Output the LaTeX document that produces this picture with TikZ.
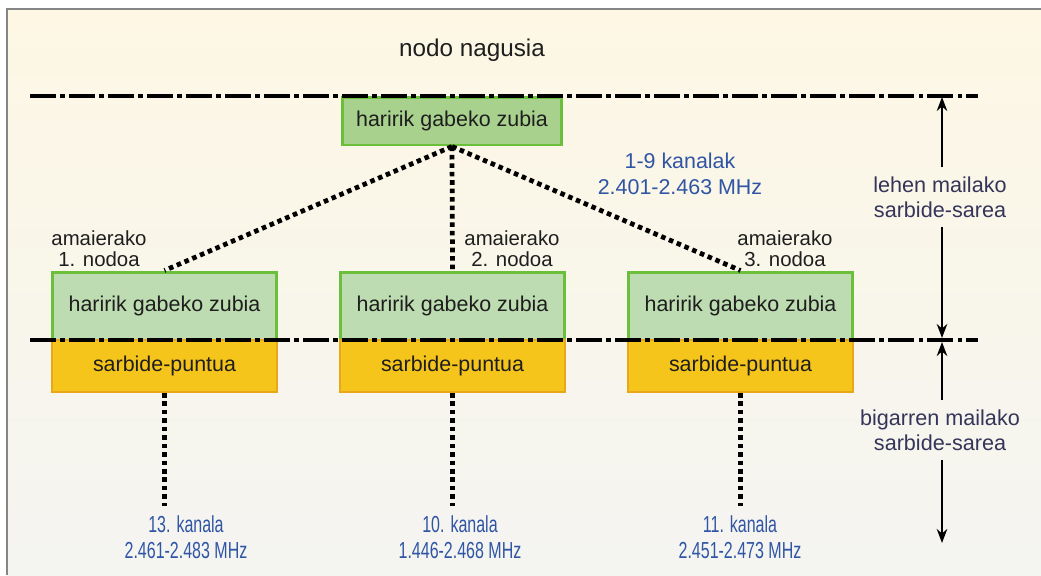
\documentclass[tikz,border=0pt]{standalone}
\usepackage{fontspec}
\setmainfont{Liberation Sans}
\usetikzlibrary{arrows.meta}
\definecolor{frameg}{HTML}{858585}
\definecolor{bgtop}{HTML}{FDF7E4}
\definecolor{bgbot}{HTML}{F4F4F1}
\definecolor{gfill}{HTML}{A9D18E}
\definecolor{gfillb}{HTML}{BEDCB1}
\definecolor{gline}{HTML}{6CBF3A}
\definecolor{yfill}{HTML}{F6C51C}
\definecolor{yline}{HTML}{EAA71A}
\definecolor{bluet}{HTML}{2F55A4}
\definecolor{navyt}{HTML}{35355A}
\definecolor{blackt}{HTML}{1E1E1E}
\tikzset{
  bridge/.style={draw=gline, line width=1.7pt, fill=gfill, minimum width=4.4cm, minimum height=0.96cm, inner sep=0pt, text=blackt, font=\fontsize{12.2}{14}\selectfont},
  bridgeb/.style={bridge, fill=gfillb, minimum width=4.5cm, minimum height=1.36cm},
  ap/.style={draw=yline, line width=1.2pt, fill=yfill, minimum width=4.5cm, minimum height=1.04cm, inner sep=0pt, text=blackt, font=\fontsize{12.2}{14}\selectfont},
  level/.style={line width=2.4pt, black, dash pattern=on 15pt off 2.3pt on 2.6pt off 2.3pt},
  radio/.style={line width=2.7pt, black, dash pattern=on 2.6pt off 2.2pt},
  endlbl/.style={align=center, text=blackt, font=\fontsize{11.6}{12}\selectfont},
  chlbl/.style={align=center, text=bluet, font=\fontsize{12.2}{15}\selectfont},
  chlblb/.style={align=center, text=bluet, font=\fontsize{13.2}{15}\selectfont},
  tierlbl/.style={align=center, text=navyt, font=\fontsize{12.3}{14.3}\selectfont, inner sep=5pt},
  arr/.style={line width=1.1pt, -{Stealth[length=8pt,width=6pt]}}
}
\begin{document}
\begin{tikzpicture}[x=0.02cm,y=-0.02cm]
\useasboundingbox (0,0) rectangle (1041,575);
\fill[white] (0,0) rectangle (1041,575);
\shade[top color=bgtop, bottom color=bgbot] (7,9) rectangle (1041,575);
\draw[frameg, line width=1.4pt] (7,575) -- (7,9) -- (1041,9);

% title
\node[text=blackt, font=\fontsize{13.8}{16}\selectfont] (title) at (472,50) {nodo nagusia};

% line coordinates
\coordinate (l1a) at (30,96);
\coordinate (l1b) at (978,96);
\coordinate (l2a) at (30,340);
\coordinate (l2b) at (978,340);

% hub dot
\fill[black] (452,145) circle[radius=3.2pt];

% boxes
\node[bridge] (hub) at (452,121) {haririk gabeko zubia};
\node[bridgeb] (g1) at (164.5,306) {haririk gabeko zubia};
\node[bridgeb] (g2) at (452.5,306) {haririk gabeko zubia};
\node[bridgeb] (g3) at (740.5,306) {haririk gabeko zubia};
\node[ap] (y1) at (164.5,366) {sarbide-puntua};
\node[ap] (y2) at (452.5,366) {sarbide-puntua};
\node[ap] (y3) at (740.5,366) {sarbide-puntua};

% level lines
\draw[level] (l1a) -- (l1b);
\draw[level] (l2a) -- (l2b);

% radio links
\draw[radio] (hub.south) -- (g1.north);
\draw[radio] (hub.south) -- (g2.north);
\draw[radio] (hub.south) -- (g3.north);

\coordinate (b1) at (164.5,506);
\coordinate (b2) at (452.5,506);
\coordinate (b3) at (740.5,506);
\draw[radio] (y1.south) -- (b1);
\draw[radio] (y2.south) -- (b2);
\draw[radio] (y3.south) -- (b3);

% end node labels
\node[endlbl] (e1) at (99,249) {amaierako\\1. nodoa};
\node[endlbl] (e2) at (512,249) {amaierako\\2. nodoa};
\node[endlbl] (e3) at (785,249) {amaierako\\3. nodoa};

% channel labels
\node[chlbl] (c0) at (680,174) {1-9 kanalak\\2.401-2.463 MHz};
\node[chlblb] (c1) at (186,537) {\scalebox{0.69}[1]{13. kanala}\\\scalebox{0.69}[1]{2.461-2.483 MHz}};
\node[chlblb] (c2) at (460,537) {\scalebox{0.69}[1]{10. kanala}\\\scalebox{0.69}[1]{1.446-2.468 MHz}};
\node[chlblb] (c3) at (740,537) {\scalebox{0.69}[1]{11. kanala}\\\scalebox{0.69}[1]{2.451-2.473 MHz}};

% tier labels and arrows
\node[tierlbl] (t1) at (940,197) {lehen mailako\\sarbide-sarea};
\node[tierlbl] (t2) at (940,430) {bigarren mailako\\sarbide-sarea};
\coordinate (a1) at (942,97);
\coordinate (a2) at (942,338);
\coordinate (a3) at (942,342);
\coordinate (a4) at (942,543);
\draw[arr] (t1.north -| a1) -- (a1);
\draw[arr] (t1.south -| a2) -- (a2);
\draw[arr] (t2.north -| a3) -- (a3);
\draw[arr] (t2.south -| a4) -- (a4);
\end{tikzpicture}
\end{document}
